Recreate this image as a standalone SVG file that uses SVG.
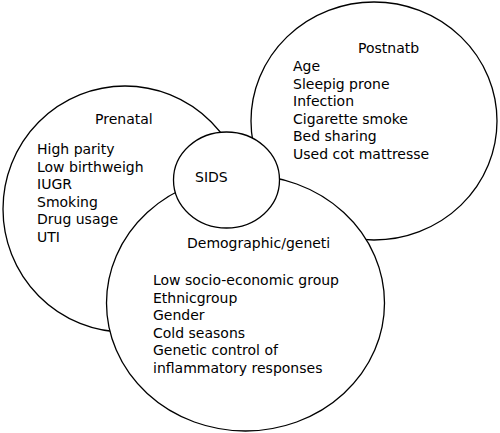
<svg xmlns="http://www.w3.org/2000/svg" width="500" height="433" viewBox="0 0 500 433">
<style>
.c{fill:#fff;stroke:#000;stroke-width:1.3}
text{font-family:"DejaVu Sans","Noto Sans",sans-serif;font-size:14px;fill:#000}
</style>
<rect width="500" height="433" fill="#fff"/>
<g id="prenatal">
<ellipse class="c" cx="125" cy="209" rx="122" ry="123"/>
<text x="95" y="124">Prenatal</text>
<text x="37" y="154">High parity</text>
<text x="37" y="171.5">Low birthweigh</text>
<text x="37" y="189">IUGR</text>
<text x="37" y="206.5">Smoking</text>
<text x="37" y="224">Drug usage</text>
<text x="37" y="241.5">UTI</text>
</g>
<g id="postnatal">
<ellipse class="c" cx="374" cy="121" rx="123" ry="119"/>
<text x="358" y="53">Postnatb</text>
<text x="293" y="71">Age</text>
<text x="293" y="88.5">Sleepig prone</text>
<text x="293" y="106">Infection</text>
<text x="293" y="123.5">Cigarette smoke</text>
<text x="293" y="141">Bed sharing</text>
<text x="293" y="158.5">Used cot mattresse</text>
</g>
<g id="demographic">
<ellipse class="c" cx="245.5" cy="303" rx="139" ry="128"/>
<text x="187" y="248">Demographic/geneti</text>
<text x="153" y="285">Low socio-economic group</text>
<text x="153" y="302.5">Ethnicgroup</text>
<text x="153" y="320">Gender</text>
<text x="153" y="337.5">Cold seasons</text>
<text x="153" y="355">Genetic control of</text>
<text x="153" y="372.5">inflammatory responses</text>
</g>
<g id="sids">
<ellipse class="c" cx="226.5" cy="180" rx="53" ry="48"/>
<text x="195" y="182">SIDS</text>
</g>
</svg>
